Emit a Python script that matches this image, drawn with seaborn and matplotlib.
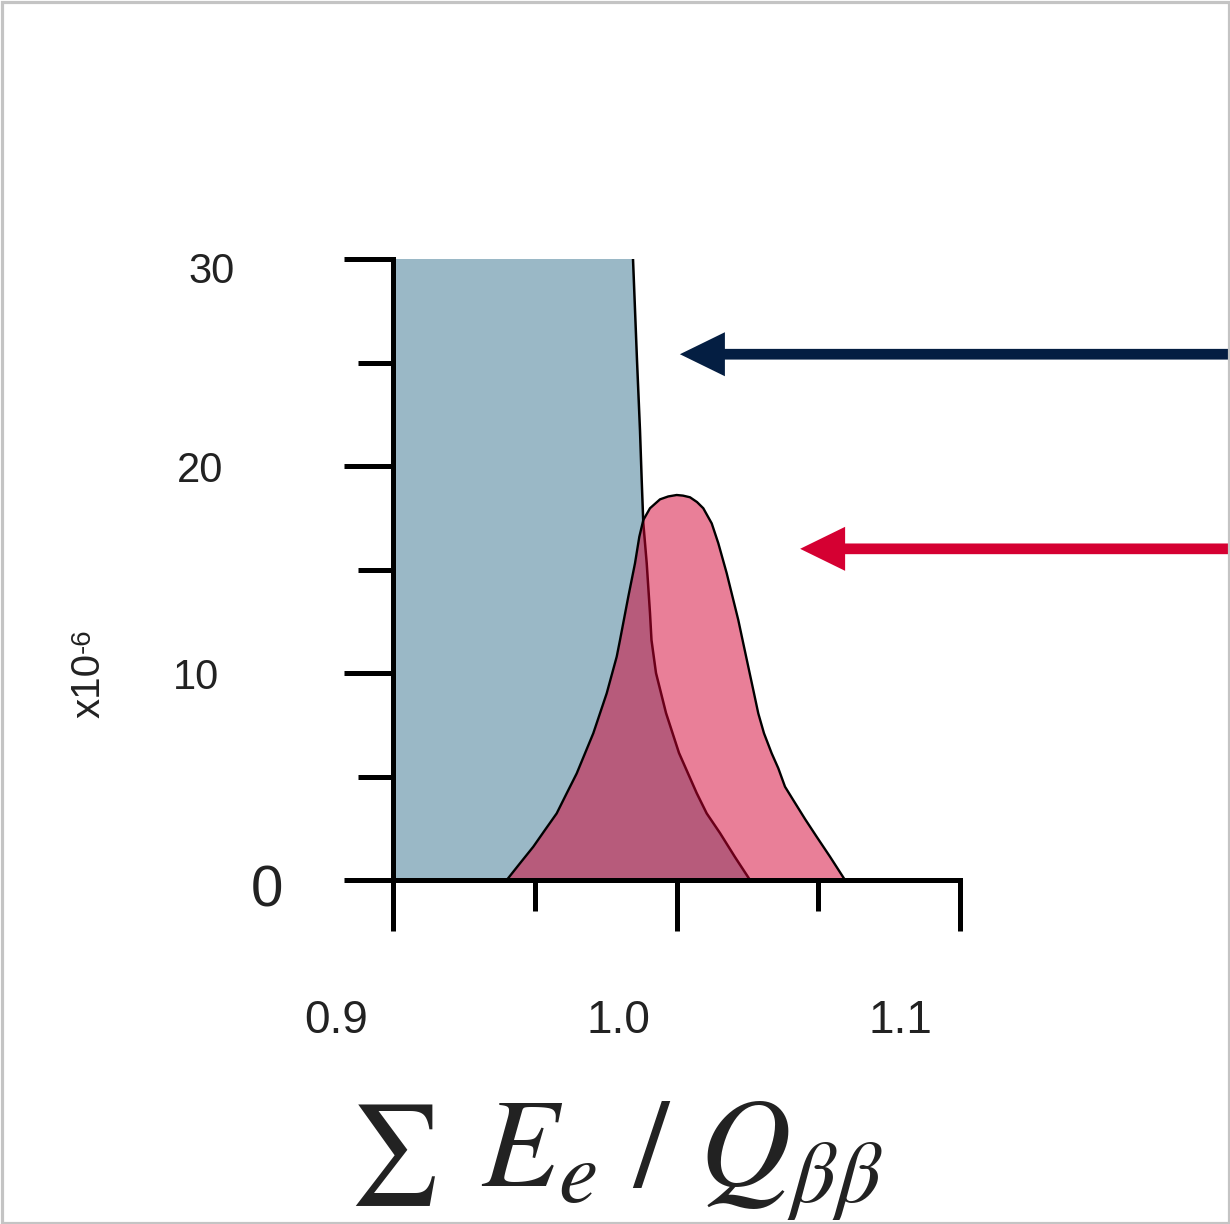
import matplotlib
matplotlib.use("Agg")
import matplotlib.pyplot as plt
import seaborn as sns
from matplotlib.transforms import ScaledTranslation
from matplotlib.patches import Rectangle

sns.set_theme(style="white")
plt.rcParams["font.family"] = ["Liberation Sans", "DejaVu Sans"]
plt.rcParams["mathtext.fontset"] = "stix"

# --- data -------------------------------------------------------------
# two-neutrino spectrum (rises far above the plotted range on the left)
blue_x = [0.900, 0.930, 0.950, 0.965, 0.975, 0.980, 0.98466, 0.98607,
          0.98713, 0.98773, 0.98829, 0.98949, 0.99065, 0.99118, 0.99277,
          0.99630, 1.00088, 1.00712, 1.01065, 1.01534, 1.02063, 1.02593]
blue_y = [950.0, 600.0, 300.0, 140.0, 70.0, 47.0, 30.0, 25.1,
          21.7, 19.3, 17.25, 15.31, 12.90, 11.59, 10.0,
          8.07, 6.14, 4.20, 3.22, 2.27, 1.11, 0.0]

# neutrinoless peak
red_x = [0.94011, 0.94480, 0.94949, 0.95362, 0.95774, 0.96127, 0.96480,
         0.97065, 0.97538, 0.97891, 0.98007, 0.98300, 0.98536, 0.98688,
         0.98829, 0.99065, 0.99418, 0.99709, 1.00007, 1.00229, 1.00476,
         1.00723, 1.00945, 1.01242, 1.01475, 1.01771, 1.02180, 1.02356,
         1.02533, 1.02709, 1.02885, 1.03086, 1.03358, 1.03591, 1.03827,
         1.04120, 1.04533, 1.04945, 1.05414, 1.05944]
red_y = [0.0, 0.81, 1.61, 2.42, 3.22, 4.19, 5.15,
         7.09, 9.02, 10.79, 11.59, 13.69, 15.30, 16.58,
         17.39, 17.96, 18.39, 18.53, 18.60, 18.57, 18.49,
         18.26, 17.96, 17.23, 16.27, 14.82, 12.56, 11.43,
         10.30, 9.18, 8.05, 7.09, 6.12, 5.40, 4.51,
         3.86, 2.95, 2.09, 1.13, 0.0]

x_ticks = [0.9, 1.0, 1.1]
x_tick_labels = ["0.9", "1.0", "1.1"]
x_minor = [0.95, 1.05]
y_ticks = [0, 10, 20, 30]
y_tick_labels = ["0", "10", "20", "30"]
y_minor = [5, 15, 25]

# arrow tips (x, y) in data units
blue_arrow_tip = (1.0012, 25.4)
red_arrow_tip = (1.0436, 16.0)

BLUE_FILL = "#9ab8c6"
NAVY = "#041e42"
RED = "#d50032"
TEXT = "#222222"

W, H, DPI = 1230, 1224, 100
fig = plt.figure(figsize=(W / DPI, H / DPI), dpi=DPI)
ax = fig.add_axes([0.3195, 0.2810, 0.4610, 0.5074])

# --- curves -----------------------------------------------------------
ax.fill_between(blue_x, 0, blue_y, color=BLUE_FILL, lw=0, zorder=1)
sns.lineplot(x=blue_x, y=blue_y, color="black", lw=1.8, ax=ax, zorder=2)
ax.fill_between(red_x, 0, red_y, color=RED, alpha=0.5, lw=0, zorder=3)
sns.lineplot(x=red_x, y=red_y, color="black", lw=1.7, ax=ax, zorder=4)

ax.set_xlim(0.9, 1.1)
ax.set_ylim(0, 30)
ax.set_ylabel("")
ax.set_axisbelow(False)

for side in ("top", "right"):
    ax.spines[side].set_visible(False)
for side in ("left", "bottom"):
    ax.spines[side].set_color("black")
    ax.spines[side].set_linewidth(3.6)
    ax.spines[side].set_zorder(10)

# --- ticks ------------------------------------------------------------
ax.set_xticks(x_ticks, labels=x_tick_labels)
ax.set_xticks(x_minor, minor=True)
ax.set_yticks(y_ticks, labels=y_tick_labels)
ax.set_yticks(y_minor, minor=True)

ax.tick_params(axis="x", which="major", direction="out", bottom=True,
               length=36.7, width=3.6, color="black", pad=49,
               labelsize=33, labelcolor=TEXT)
ax.tick_params(axis="x", which="minor", direction="out", bottom=True,
               length=22.3, width=3.6, color="black")
ax.tick_params(axis="y", which="major", direction="out", left=True,
               length=35.3, width=3.6, color="black", pad=79,
               labelsize=30, labelcolor=TEXT)
ax.tick_params(axis="y", which="minor", direction="out", left=True,
               length=25.2, width=3.6, color="black")

# hand-set label offsets (pixels)
x_dx = [-57, -58, -60]
for lab, dx in zip(ax.get_xticklabels(), x_dx):
    lab.set_transform(lab.get_transform()
                      + ScaledTranslation(dx / DPI, 0, fig.dpi_scale_trans))

y_dx = [49, -15, -11, 0]
y_dy = [-5, 0, 0, -9]
for lab, dx, dy in zip(ax.get_yticklabels(), y_dx, y_dy):
    lab.set_transform(lab.get_transform()
                      + ScaledTranslation(dx / DPI, dy / DPI, fig.dpi_scale_trans))
ax.get_yticklabels()[0].set_fontsize(42)

# --- axis label: summation sign set a little smaller and lower ---------
ax.set_xlabel(r"$E_e\ /\ Q_{\beta\beta}$", fontsize=91, color=TEXT)
ax.xaxis.label.set_ha("left")
ax.xaxis.label.set_va("baseline")
ax.xaxis.set_label_coords((481 - 393) / 567, -0.4928)
fig.text(349 / W, 1 - 1102 / H, r"$\sum$", ha="left", va="top",
         fontsize=71.5, color=TEXT)

# scale factor written beside the y axis
fig.text(100 / W, 1 - 718 / H, "x10", rotation=90, rotation_mode="anchor",
         ha="left", va="baseline", fontsize=29, color=TEXT)
fig.text(90 / W, 1 - 653 / H, "-6", rotation=90, rotation_mode="anchor",
         ha="left", va="baseline", fontsize=20, color=TEXT)

# --- arrows from the right edge ---------------------------------------
arrow_style = "simple,head_length=3.24,head_width=3.17,tail_width=0.77"
for tip, col in ((blue_arrow_tip, NAVY), (red_arrow_tip, RED)):
    ax.annotate("", xy=tip, xycoords="data",
                xytext=(1.0, tip[1]), textcoords=("figure fraction", "data"),
                arrowprops=dict(arrowstyle=arrow_style, mutation_scale=10,
                                fc=col, ec="none", shrinkA=0, shrinkB=0),
                annotation_clip=False, zorder=6)

# thin grey frame around the figure
fig.patches.append(Rectangle((1.5 / W, 1.5 / H), 1 - 3 / W, 1 - 3 / H,
                             transform=fig.transFigure, fill=False,
                             ec="#c4c4c4", lw=2.3, zorder=20))

fig.savefig("out.png", dpi=DPI)
